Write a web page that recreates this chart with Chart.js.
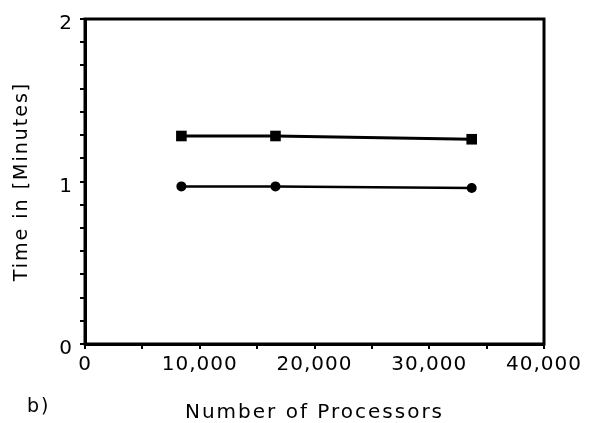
<!DOCTYPE html>
<html>
<head>
<meta charset="utf-8">
<script src="https://cdn.jsdelivr.net/npm/chart.js@4"></script>
<style>
  html, body { margin: 0; padding: 0; background: #fff; }
  #wrap { width: 594px; height: 423px; }
</style>
</head>
<body>
<div id="wrap"><canvas id="timingChart"></canvas></div>
<script>
// data
const processors = [8400, 16600, 33700];
const timeSquares = [1.28, 1.28, 1.26];
const timeCircles = [0.97, 0.97, 0.96];

// axis ticks (labelled + minor)
const xTicks = [0, 5000, 10000, 15000, 20000, 25000, 30000, 35000, 40000];
const xLabelled = [0, 10000, 20000, 30000, 40000];
const yTicks = [0, 1/7, 2/7, 3/7, 4/7, 5/7, 6/7, 1, 8/7, 9/7, 10/7, 11/7, 12/7, 13/7, 2];
const yLabelled = [0, 1, 2];

const FONT = "'DejaVu Sans', sans-serif";
const TICK_SPACING = '1px';
const TITLE_SPACING = '2px';

function toPoints(xs, ys) {
    return xs.map(function(x, i) { return { x: x, y: ys[i] }; });
}

// axis titles in the original are set a little wider than the numbers
function widenTitle(scale) {
    if (scale._widened) return;
    scale._widened = true;
    const orig = scale.drawTitle;
    scale.drawTitle = function() {
        const ctx = this.ctx;
        ctx.letterSpacing = TITLE_SPACING;
        orig.apply(this, arguments);
        ctx.letterSpacing = TICK_SPACING;
    };
}

// frame around the plot and the panel letter
const framePlugin = {
    id: 'frame',
    beforeDraw: function(chart) {
        chart.ctx.letterSpacing = TICK_SPACING;
    },
    afterDraw: function(chart) {
        const ctx = chart.ctx;
        const a = chart.chartArea;
        ctx.save();
        ctx.strokeStyle = '#000';
        ctx.lineWidth = 3;
        ctx.strokeRect(a.left, a.top, a.right - a.left, a.bottom - a.top);
        ctx.fillStyle = '#000';
        ctx.letterSpacing = '2px';
        ctx.font = '19px ' + FONT;
        ctx.textBaseline = 'middle';
        ctx.textAlign = 'left';
        ctx.fillText('b)', 27, 407);
        ctx.restore();
    }
};

new Chart(document.getElementById('timingChart'), {
    type: 'scatter',
    data: {
        datasets: [
            {
                label: 'squares',
                data: toPoints(processors, timeSquares),
                showLine: true,
                borderColor: '#000',
                backgroundColor: '#000',
                borderWidth: 3,
                pointStyle: 'rect',
                pointRadius: 7.5,
                pointBorderWidth: 0
            },
            {
                label: 'circles',
                data: toPoints(processors, timeCircles),
                showLine: true,
                borderColor: '#000',
                backgroundColor: '#000',
                borderWidth: 2.5,
                pointStyle: 'circle',
                pointRadius: 5,
                pointBorderWidth: 0
            }
        ]
    },
    options: {
        responsive: true,
        maintainAspectRatio: false,
        animation: false,
        layout: { padding: { top: 16, right: 50, left: 0, bottom: 0 } },
        plugins: {
            legend: { display: false },
            tooltip: { enabled: false }
        },
        scales: {
            x: {
                type: 'linear',
                min: 0,
                max: 40000,
                afterBuildTicks: function(scale) {
                    scale.ticks = xTicks.map(function(v) { return { value: v }; });
                },
                afterFit: function(scale) {
                    scale.height = 79;
                    widenTitle(scale);
                },
                border: { display: true, color: '#000', width: 3 },
                grid: { drawOnChartArea: false, color: '#000', lineWidth: 2, tickLength: 5 },
                ticks: {
                    autoSkip: false,
                    maxRotation: 0,
                    padding: 4,
                    color: '#000',
                    font: { family: FONT, size: 20 },
                    callback: function(value) {
                        return xLabelled.indexOf(value) >= 0 ? value.toLocaleString('en-US') : '';
                    }
                },
                title: {
                    display: true,
                    text: 'Number of Processors',
                    color: '#000',
                    font: { family: FONT, size: 20, lineHeight: 1 },
                    padding: { top: 0, bottom: 0 }
                }
            },
            y: {
                type: 'linear',
                min: 0,
                max: 2,
                afterBuildTicks: function(scale) {
                    scale.ticks = yTicks.map(function(v) { return { value: v }; });
                },
                afterFit: function(scale) {
                    scale.width = 85;
                    widenTitle(scale);
                },
                border: { display: true, color: '#000', width: 3 },
                grid: { drawOnChartArea: false, color: '#000', lineWidth: 2, tickLength: 5 },
                ticks: {
                    autoSkip: false,
                    padding: 7,
                    labelOffset: 5,
                    color: '#000',
                    font: { family: FONT, size: 20 },
                    callback: function(value) {
                        const r = Math.round(value);
                        return (Math.abs(value - r) < 1e-6 && yLabelled.indexOf(r) >= 0) ? String(r) : '';
                    }
                },
                title: {
                    display: true,
                    text: 'Time in [Minutes]',
                    color: '#000',
                    font: { family: FONT, size: 19 },
                    padding: { top: 11, bottom: 0 }
                }
            }
        }
    },
    plugins: [framePlugin]
});
</script>
</body>
</html>
